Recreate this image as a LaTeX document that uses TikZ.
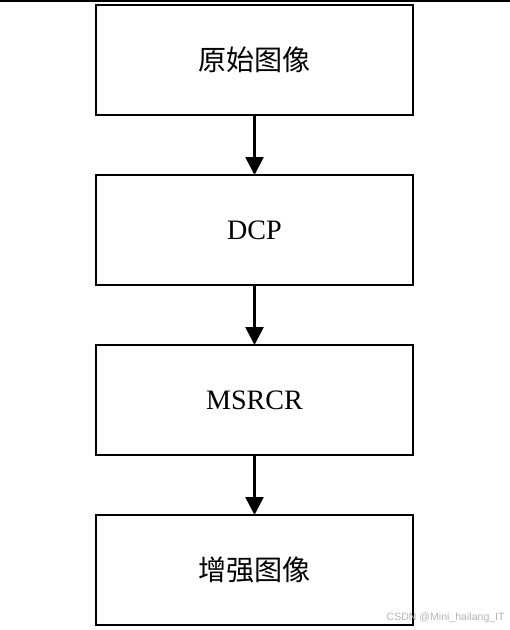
\documentclass[tikz,border=0pt]{standalone}
\usepackage{fontspec}
\setmainfont{Liberation Serif}
\setsansfont{Liberation Sans}
\newfontfamily\cjk{Noto Sans CJK SC}
\usetikzlibrary{arrows.meta,positioning}

\begin{document}
\begin{tikzpicture}[
  stepbox/.style={draw,line width=1.4pt,minimum width=6.34cm,minimum height=2.2cm,
    inner sep=0pt,outer sep=0pt,font=\fontsize{16}{18}\selectfont},
  flow/.style={line width=1.4pt,-{Triangle[length=0.36cm,width=0.36cm]}}
]
\useasboundingbox (0,0) rectangle (10.2,-12.6);
% top rule
\coordinate (ruleL) at (0,-0.02);
\coordinate (ruleR) at (10.2,-0.02);
\draw[line width=1.1pt] (ruleL) -- (ruleR);
% the four steps
\node[stepbox] (orig) at (5.09,-1.2) {\cjk 原始图像};
\node[stepbox,below=1.2cm of orig] (dcp) {DCP};
\node[stepbox,below=1.2cm of dcp] (msrcr) {MSRCR};
\node[stepbox,below=1.2cm of msrcr] (enh) {\cjk 增强图像};
\draw[flow] (orig) -- (dcp);
\draw[flow] (dcp) -- (msrcr);
\draw[flow] (msrcr) -- (enh);
% watermark
\node[anchor=east,text=black!30,font=\sffamily\fontsize{6}{7}\selectfont,inner sep=0pt]
  (mark) at (10.1,-12.36) {CSDN @Mini\_hailang\_IT};
\end{tikzpicture}
\end{document}
